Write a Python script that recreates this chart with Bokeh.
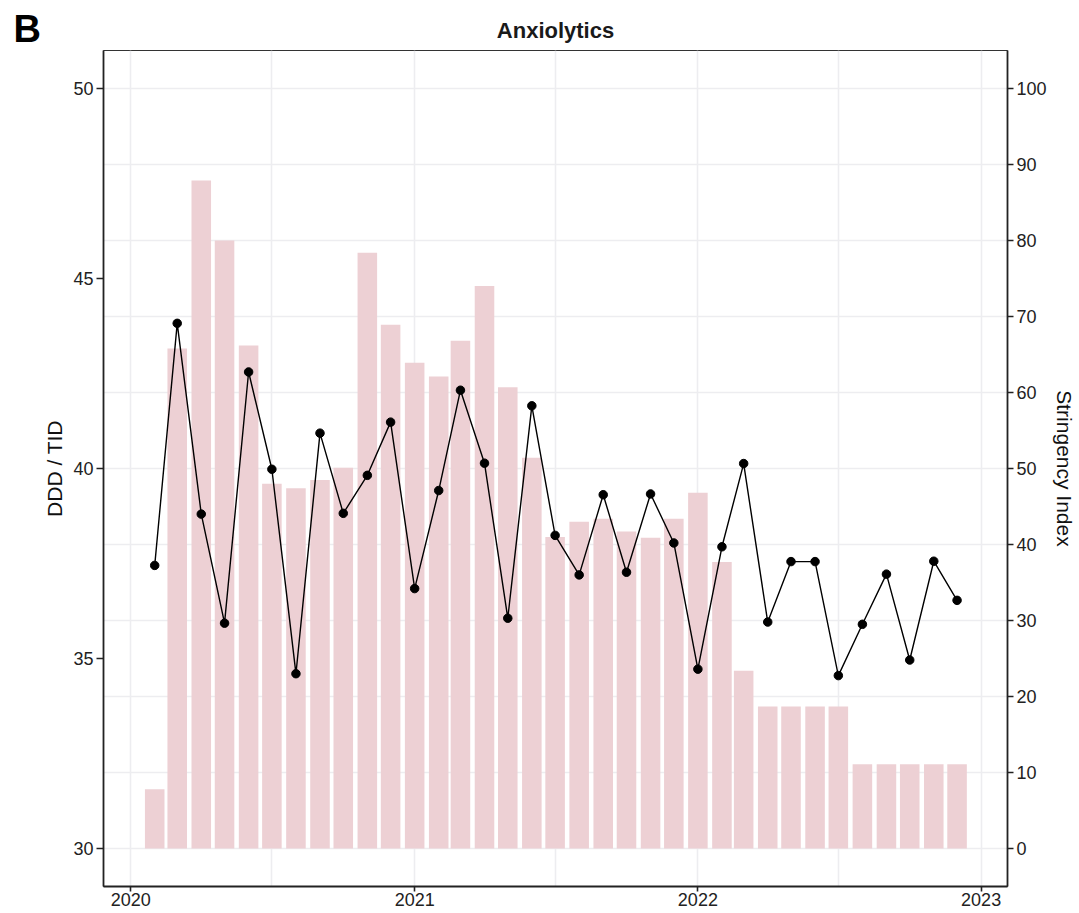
import pandas as pd
from bokeh.plotting import figure
from bokeh.models import (Range1d, LinearAxis, FixedTicker, Label, ColumnDataSource,
                          DatetimeTickFormatter)
from bokeh.embed import file_html
from bokeh.resources import INLINE

# ---- data ----
months = ["2020-02", "2020-03", "2020-04", "2020-05", "2020-06", "2020-07", "2020-08",
          "2020-09", "2020-10", "2020-11", "2020-12", "2021-01", "2021-02", "2021-03",
          "2021-04", "2021-05", "2021-06", "2021-07", "2021-08", "2021-09", "2021-10",
          "2021-11", "2021-12", "2022-01", "2022-02", "2022-03", "2022-04", "2022-05",
          "2022-06", "2022-07", "2022-08", "2022-09", "2022-10", "2022-11", "2022-12"]
ddd_tid = [37.45, 43.82, 38.80, 35.93, 42.54, 39.98, 34.60, 40.93, 38.82, 39.82,
           41.22, 36.84, 39.42, 42.06, 40.14, 36.06, 41.65, 38.24, 37.20, 39.31,
           37.27, 39.33, 38.04, 34.72, 37.94, 40.13, 35.96, 37.55, 37.55, 34.55,
           35.90, 37.22, 34.96, 37.56, 36.53]
stringency = [7.8, 65.8, 87.9, 80.0, 66.2, 48.0, 47.4, 48.5, 50.1, 78.4,
              68.9, 63.9, 62.1, 66.8, 74.0, 60.7, 51.4, 41.0, 43.0, 43.4,
              41.7, 40.9, 43.4, 46.8, 37.7, 23.4, 18.7, 18.7, 18.7, 18.7,
              11.1, 11.1, 11.1, 11.1, 11.1]
year_ticks = ["2020-01-01", "2021-01-01", "2022-01-01", "2023-01-01"]
half_year_grid = ["2020-07-01", "2021-07-01", "2022-07-01"]
left_ticks = [30, 35, 40, 45, 50]
right_ticks = [0, 10, 20, 30, 40, 50, 60, 70, 80, 90, 100]

dates = pd.to_datetime([m + "-01" for m in months])
src = ColumnDataSource(dict(date=dates, ddd=ddd_tid, si=stringency))

def ms(s):
    return pd.Timestamp(s).value / 1e6

DAY = 24 * 3600 * 1000
x_start = ms("2019-11-27")
x_end = ms("2023-02-04")

FONT = "Liberation Sans"
W, H = 1078, 912
L, R, T, B = 103, 1011, 50, 886

p = figure(width=W, height=H, x_axis_type="datetime",
           x_range=Range1d(x_start, x_end), y_range=Range1d(29, 51),
           output_backend="svg", toolbar_location=None,
           min_border_left=L, min_border_right=W - R, min_border_top=T,
           min_border_bottom=H - B)
p.extra_y_ranges = {"si": Range1d(-5, 105)}

p.vbar(x="date", top="si", bottom=0, width=25.2 * DAY, source=src,
       y_range_name="si", fill_color="#EDD0D4", line_color=None)
p.line(x="date", y="ddd", source=src, line_color="black", line_width=1.4)
p.scatter(x="date", y="ddd", source=src, size=8.5, fill_color="black", line_color="black")

# title
p.title.text = "Anxiolytics"
p.title.align = "center"
p.title.text_font = FONT
p.title.text_font_size = "22px"
p.title.text_font_style = "bold"
p.title.text_color = "#1a1a1a"
p.title.offset = 0
p.title.standoff = 15

# axes
xa = p.xaxis[0]
xa.ticker = FixedTicker(ticks=[ms(t) for t in year_ticks])
xa.formatter = DatetimeTickFormatter(years="%Y", months="%Y", days="%Y")
ya = p.yaxis[0]
ya.ticker = FixedTicker(ticks=left_ticks)
ya.axis_label = "DDD / TID"

ra = LinearAxis(y_range_name="si", ticker=FixedTicker(ticks=right_ticks),
                axis_label="Stringency Index")
p.add_layout(ra, "right")

for ax in [xa, ya, ra]:
    ax.axis_line_color = "#222222"
    ax.axis_line_width = 1.8
    ax.major_tick_line_color = "#222222"
    ax.major_tick_line_width = 1.6
    ax.major_tick_in = 0
    ax.major_tick_out = 6
    ax.minor_tick_line_color = None
    ax.major_label_text_font = FONT
    ax.major_label_text_font_size = "18px"
    ax.major_label_text_color = "#222222"
    ax.major_label_standoff = 3
    ax.axis_label_text_font = FONT
    ax.axis_label_text_font_size = "21px"
    ax.axis_label_text_font_style = "normal"
    ax.axis_label_text_color = "#111111"
xa.major_tick_out = 5
xa.major_label_standoff = 1
ya.major_tick_out = 7
ya.axis_label_standoff = 4
ra.axis_label_standoff = 3

p.outline_line_color = "#333333"
p.outline_line_width = 1

# grids
p.xgrid.ticker = FixedTicker(ticks=[ms(t) for t in year_ticks + half_year_grid])
p.xgrid.grid_line_color = "#EDEDF0"
p.xgrid.grid_line_width = 1.6
p.ygrid.ticker = FixedTicker(ticks=[30, 32, 34, 36, 38, 40, 42, 44, 46, 48, 50])
p.ygrid.grid_line_color = "#EDEDF0"
p.ygrid.grid_line_width = 1.6
p.background_fill_color = "white"

# panel tag "B" (in the left side panel, so it is not clipped to the frame)
tag = Label(x=0, y=B - 28, x_units="screen", y_units="screen", text="B",
            text_font=FONT, text_font_size="38px", text_font_style="bold",
            text_color="black", text_baseline="middle", text_align="left")
p.add_layout(tag, "left")

open("out.html", "w").write(file_html(p, INLINE))
